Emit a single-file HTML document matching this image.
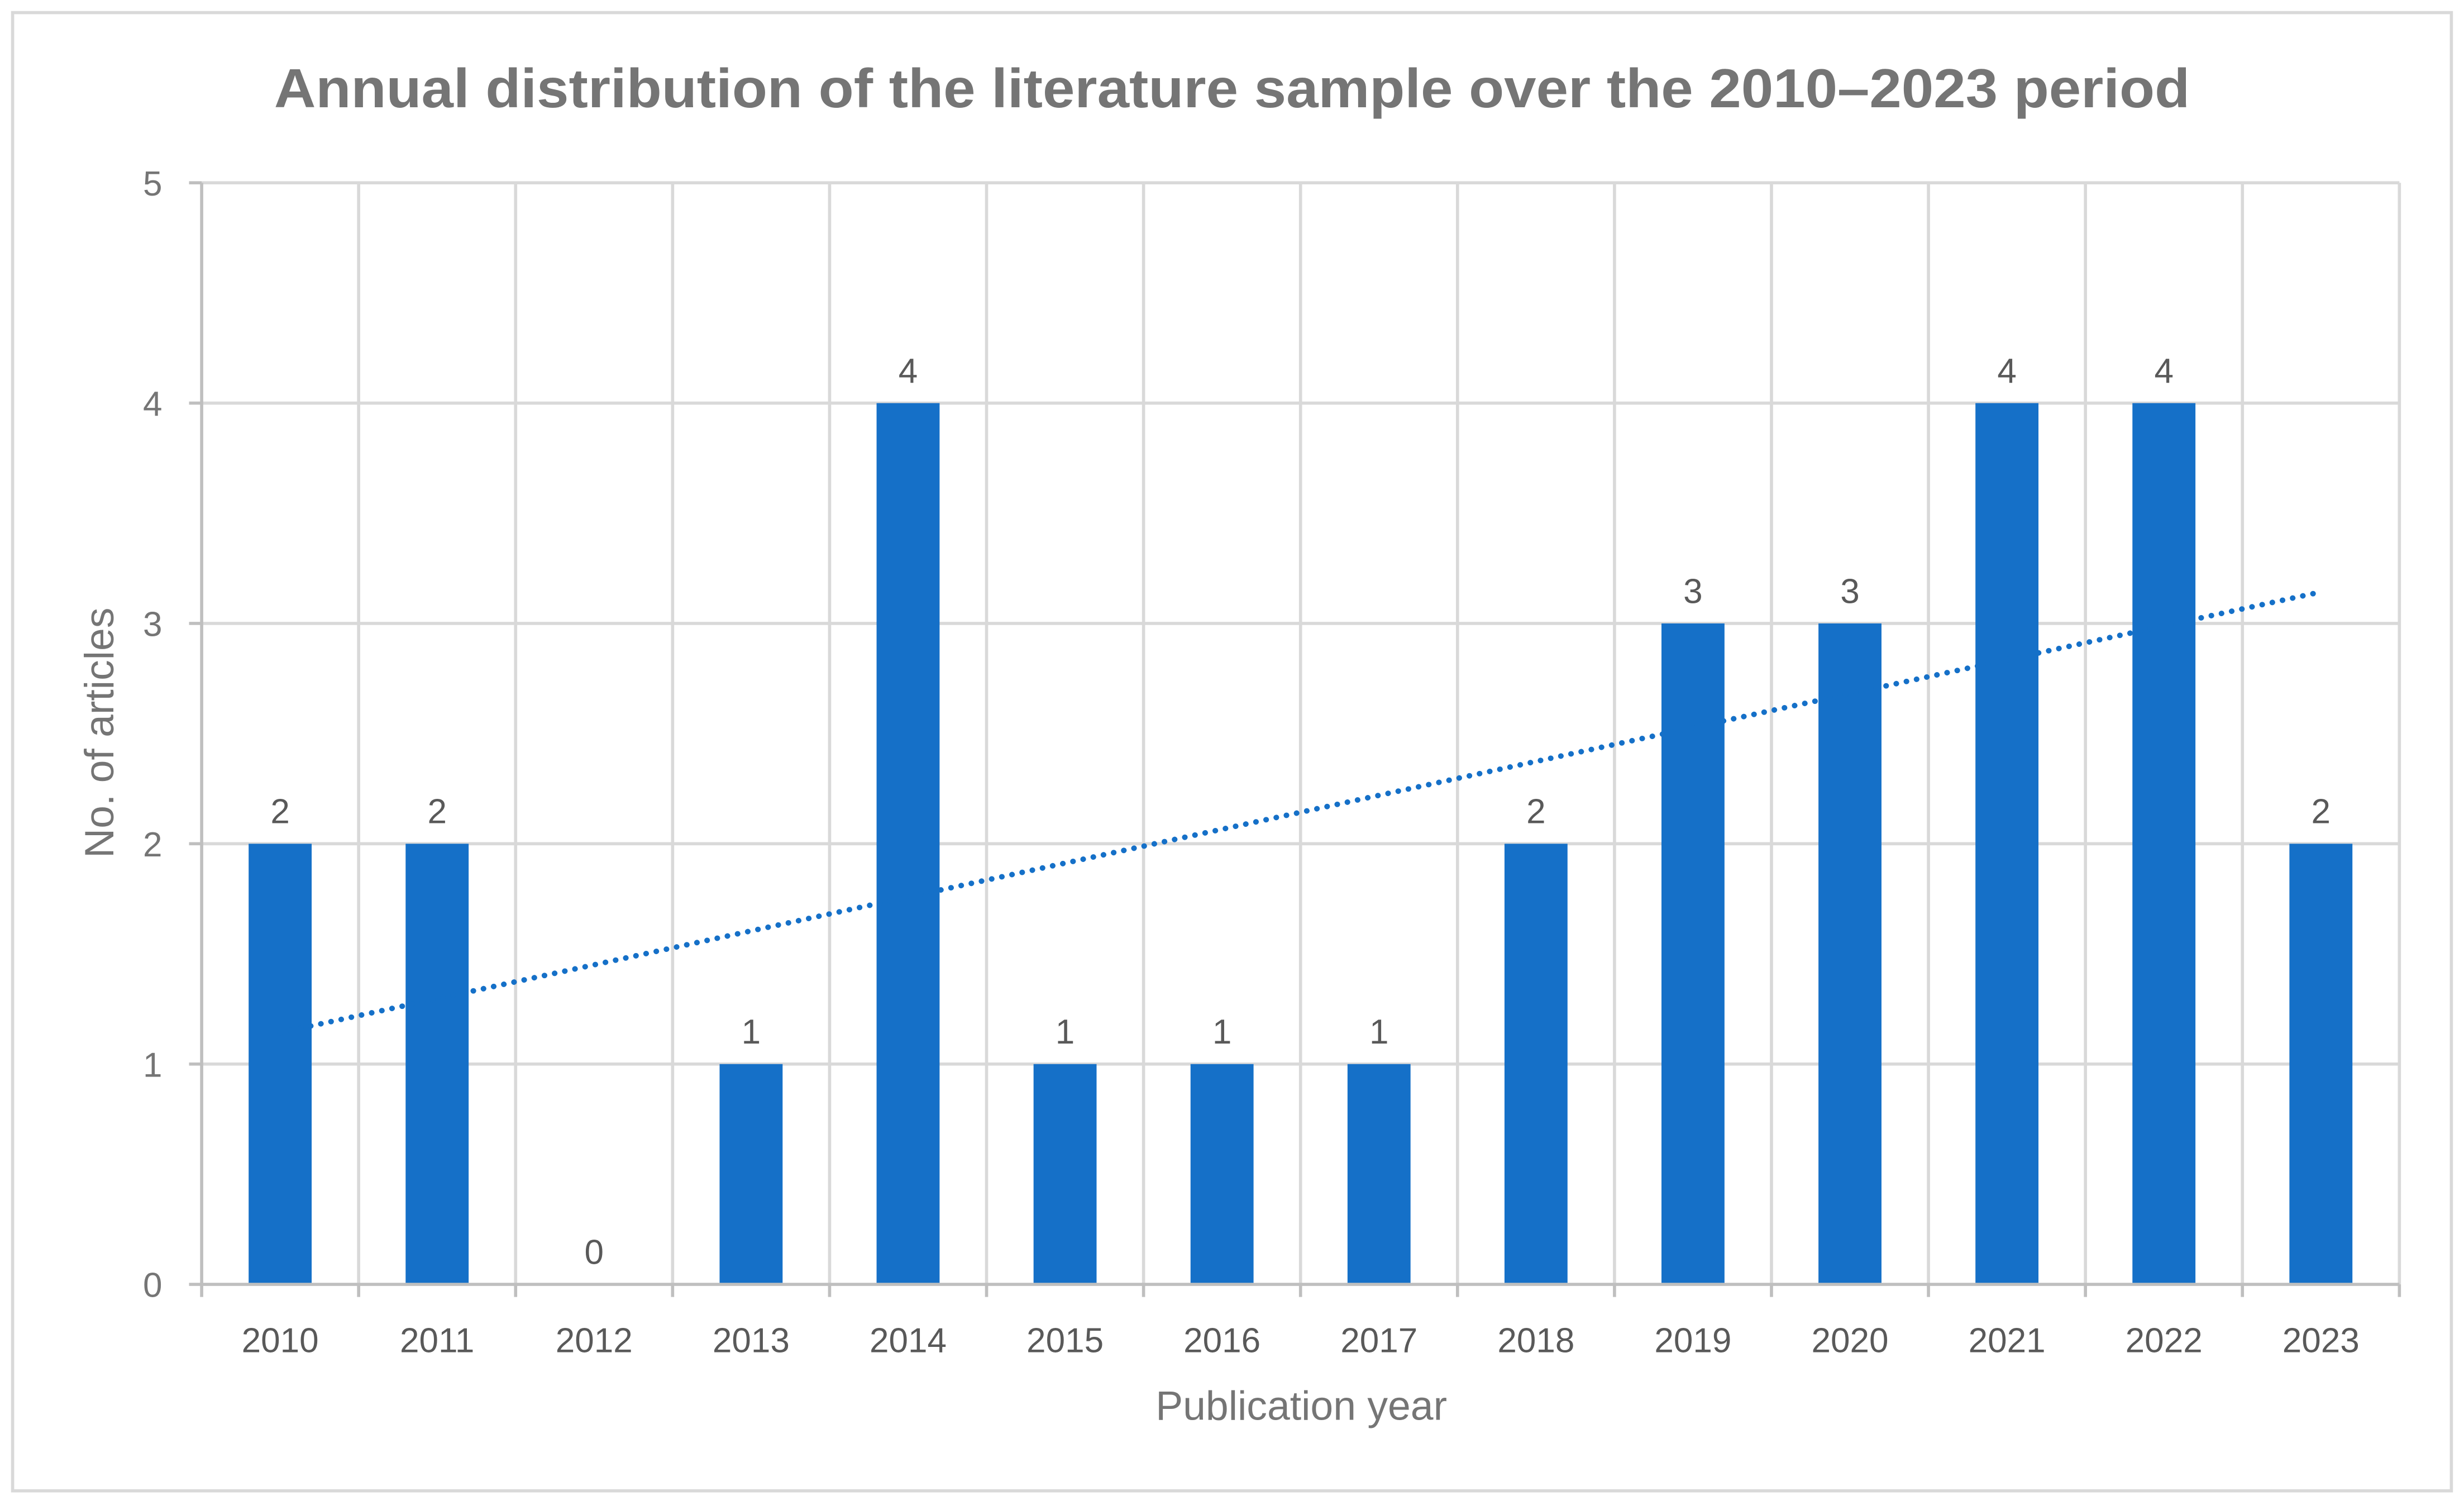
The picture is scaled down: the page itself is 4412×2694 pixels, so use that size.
<!DOCTYPE html>
<html><head><meta charset="utf-8"><style>html,body{margin:0;padding:0;background:#fff}svg{display:block}</style></head>
<body>
<svg id="chart" width="4412" height="2694" viewBox="0 0 1564 955" preserveAspectRatio="none" xmlns="http://www.w3.org/2000/svg" font-family="'Liberation Sans', sans-serif">
<rect x="8" y="8" width="1548" height="938" fill="#fff" stroke="#d9d9d9" stroke-width="2"/>
<text x="782" y="68" text-anchor="middle" font-size="35" font-weight="bold" fill="#757575" textLength="1216" lengthAdjust="spacingAndGlyphs">Annual distribution of the literature sample over the 2010–2023 period</text>
<g id="grid"></g>
<g id="bars"></g>
<g id="axes"></g>
<g id="trend"></g>
<text x="826" y="901" text-anchor="middle" font-size="26" fill="#757575">Publication year</text>
<text transform="translate(72,465) rotate(-90)" text-anchor="middle" font-size="26" fill="#757575">No. of articles</text>
</svg>
<script>
const categories = ['2010','2011','2012','2013','2014','2015','2016','2017','2018','2019','2020','2021','2022','2023'];
const values = [2,2,0,1,4,1,1,1,2,3,3,4,4,2];
const yTicks = [0,1,2,3,4,5];
const NS='http://www.w3.org/2000/svg';
const L=128,R=1523,T=116,B=815,yMax=5;
const cw=(R-L)/categories.length;
const xC=i=>L+cw*(i+0.5);
const y=v=>B-(v/yMax)*(B-T);
function mk(tag,attrs,parent,txt){const e=document.createElementNS(NS,tag);for(const k in attrs)e.setAttribute(k,attrs[k]);if(txt!==undefined)e.textContent=txt;parent.appendChild(e);return e;}
const grid=document.getElementById('grid'),bars=document.getElementById('bars'),axes=document.getElementById('axes'),trend=document.getElementById('trend');
yTicks.forEach(t=>{
  if(t>0){const g=mk('line',{x1:L,x2:R,y1:y(t),y2:y(t),stroke:'#d9d9d9','stroke-width':2},grid);
  
  }
  const tk=mk('line',{x1:L-8,x2:L,y1:y(t),y2:y(t),stroke:'#bfbfbf','stroke-width':2},axes);
  
  
  const lb=mk('text',{x:103,y:y(t)+8,'text-anchor':'end','font-size':22,fill:'#757575'},axes,String(t));
  
  
});
for(let i=1;i<=categories.length;i++){
  const x=L+cw*i;
  const g=mk('line',{x1:x,x2:x,y1:T,y2:B,stroke:'#d9d9d9','stroke-width':2},grid);
  
  
}
for(let i=0;i<=categories.length;i++){
  const x=L+cw*i;
  const tk=mk('line',{x1:x,x2:x,y1:B,y2:B+8,stroke:'#bfbfbf','stroke-width':2},axes);
  
  
}
const ya=mk('line',{x1:L,x2:L,y1:T,y2:B,stroke:'#bfbfbf','stroke-width':2},axes);


const xa=mk('line',{x1:L,x2:R,y1:B,y2:B,stroke:'#bfbfbf','stroke-width':2},axes);


categories.forEach((c,i)=>{
  const v=values[i];
  const b=mk('rect',{x:xC(i)-20,y:y(v),width:40,height:B-y(v),fill:'#1570c8'},bars);
  
  
  const vl=mk('text',{x:xC(i),y:y(v)-13,'text-anchor':'middle','font-size':22,fill:'#595959'},bars,String(v));
  
  
  const xl=mk('text',{x:xC(i),y:858,'text-anchor':'middle','font-size':22,fill:'#595959'},axes,c);
  
  
});
const n=values.length;let sx=0,sy=0,sxy=0,sxx=0;
values.forEach((v,i)=>{sx+=i;sy+=v;sxy+=i*v;sxx+=i*i;});
const slope=(n*sxy-sx*sy)/(n*sxx-sx*sx),icpt=(sy-slope*sx)/n;
const tl=mk('line',{x1:xC(0),y1:y(icpt),x2:xC(n-1),y2:y(icpt+slope*(n-1)),stroke:'#1570c8','stroke-width':3.5,'stroke-dasharray':'0.1 6.5','stroke-linecap':'round'},trend);


</script>
</body></html>
